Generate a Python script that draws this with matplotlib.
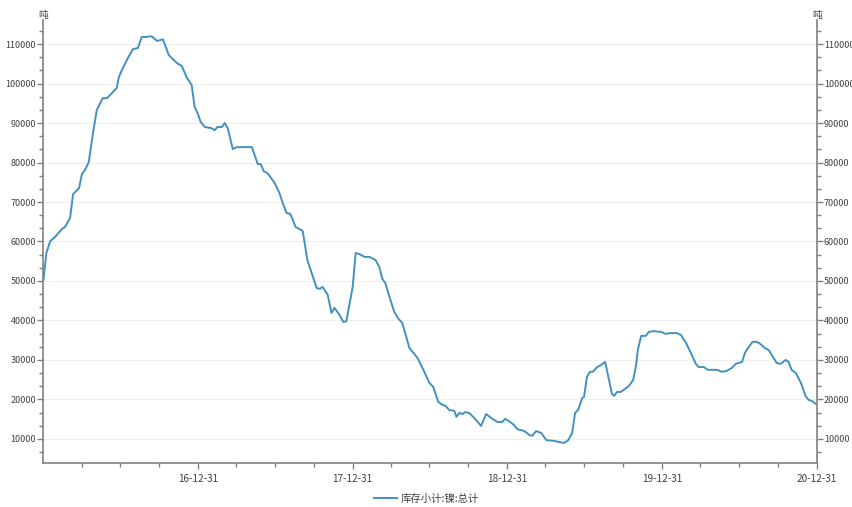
import matplotlib
matplotlib.use('Agg')
import matplotlib.pyplot as plt
import matplotlib.dates as mdates
from matplotlib.ticker import MultipleLocator, AutoMinorLocator, FixedLocator
import pandas as pd

plt.rcParams['font.family'] = ['Noto Sans CJK SC', 'DejaVu Sans']

dates = [
    '2016-01-01', '2016-01-08', '2016-01-17', '2016-01-28', '2016-02-14', '2016-02-21',
    '2016-03-04', '2016-03-11', '2016-03-25', '2016-04-01', '2016-04-08', '2016-04-17',
    '2016-04-27', '2016-05-06', '2016-05-20', '2016-05-30', '2016-06-11', '2016-06-22',
    '2016-06-27', '2016-07-04', '2016-07-18', '2016-07-30', '2016-08-11', '2016-08-20',
    '2016-09-01', '2016-09-08', '2016-09-15', '2016-09-25', '2016-10-09', '2016-10-23',
    '2016-11-11', '2016-11-23', '2016-12-04', '2016-12-16', '2016-12-23', '2016-12-30',
    '2017-01-06', '2017-01-16', '2017-02-01', '2017-02-08', '2017-02-15', '2017-02-25',
    '2017-03-04', '2017-03-11', '2017-03-23', '2017-04-01', '2017-04-15', '2017-05-07',
    '2017-05-21', '2017-05-28', '2017-06-04', '2017-06-13', '2017-06-30', '2017-07-11',
    '2017-07-19', '2017-07-28', '2017-08-06', '2017-08-18', '2017-09-04', '2017-09-15',
    '2017-10-07', '2017-10-14', '2017-10-21', '2017-11-02', '2017-11-11', '2017-11-18',
    '2017-11-30', '2017-12-09', '2017-12-16', '2017-12-31', '2018-01-07', '2018-01-16',
    '2018-01-28', '2018-02-09', '2018-02-23', '2018-03-04', '2018-03-11', '2018-03-18',
    '2018-03-28', '2018-04-08', '2018-04-18', '2018-04-27', '2018-05-07', '2018-05-14',
    '2018-06-02', '2018-06-18', '2018-06-30', '2018-07-09', '2018-07-21', '2018-07-31',
    '2018-08-07', '2018-08-16', '2018-08-28', '2018-09-02', '2018-09-09', '2018-09-16',
    '2018-09-23', '2018-10-02', '2018-10-14', '2018-10-30', '2018-11-11', '2018-11-23',
    '2018-12-07', '2018-12-19', '2018-12-26', '2019-01-09', '2019-01-16', '2019-01-23',
    '2019-02-09', '2019-02-21', '2019-02-28', '2019-03-09', '2019-03-21', '2019-04-02',
    '2019-04-21', '2019-05-02', '2019-05-14', '2019-05-24', '2019-06-02', '2019-06-09',
    '2019-06-16', '2019-06-26', '2019-06-30', '2019-07-07', '2019-07-14', '2019-07-21',
    '2019-07-31', '2019-08-09', '2019-08-19', '2019-09-04', '2019-09-09', '2019-09-16',
    '2019-09-25', '2019-10-05', '2019-10-14', '2019-10-24', '2019-10-31', '2019-11-04',
    '2019-11-12', '2019-11-23', '2019-11-30', '2019-12-12', '2019-12-29', '2020-01-09',
    '2020-01-21', '2020-02-04', '2020-02-14', '2020-02-26', '2020-03-08', '2020-03-20',
    '2020-03-27', '2020-04-08', '2020-04-17', '2020-05-09', '2020-05-20', '2020-06-01',
    '2020-06-13', '2020-06-22', '2020-07-07', '2020-07-14', '2020-07-21', '2020-08-01',
    '2020-08-11', '2020-08-20', '2020-08-30', '2020-09-08', '2020-09-15', '2020-09-27',
    '2020-10-06', '2020-10-18', '2020-10-25', '2020-11-01', '2020-11-11', '2020-11-23',
    '2020-12-04', '2020-12-11', '2020-12-19', '2020-12-28',
]
stock = [
    50250, 57100, 60100, 61100, 63200, 63700,
    66000, 72000, 73500, 77100, 78100, 80100,
    87500, 93300, 96300, 96300, 97600, 98900,
    101600, 103400, 106400, 108700, 109000, 111800,
    111800, 112000, 111800, 110800, 111200, 107200,
    105200, 104400, 101600, 99600, 94000, 92500,
    90300, 89000, 88700, 88200, 89000, 89000,
    90000, 88700, 83400, 83900, 83900, 83900,
    79600, 79600, 77800, 77300, 74800, 72300,
    69700, 67200, 67000, 63700, 62700, 55300,
    48200, 48000, 48500, 46500, 41900, 43200,
    41400, 39600, 39800, 48500, 57100, 56800,
    56100, 56100, 55300, 53500, 50500, 49500,
    45900, 42200, 40400, 39400, 35600, 33000,
    30500, 27000, 24200, 23200, 19400, 18600,
    18400, 17300, 17100, 15600, 16600, 16300,
    16800, 16600, 15300, 13300, 16300, 15300,
    14300, 14300, 15100, 14100, 13500, 12500,
    12000, 11000, 10800, 12000, 11500, 9700,
    9500, 9200, 9000, 9700, 11500, 16600,
    17300, 20400, 20600, 25700, 27000, 27000,
    28200, 28700, 29500, 21400, 20900, 21900,
    21900, 22700, 23400, 24900, 28700, 32500,
    36100, 36100, 37100, 37300, 37100, 36600,
    36800, 36800, 36300, 34300, 31800, 29000,
    28200, 28200, 27500, 27500, 27000, 27200,
    28000, 29000, 29500, 31800, 33000, 34600,
    34600, 34000, 33000, 32500, 31300, 29200,
    29000, 30000, 29500, 27500, 26700, 24200,
    20900, 19900, 19600, 18900,
]
series_name = '库存小计:镍:总计'
unit = '吨'

x = pd.to_datetime(dates)

fig = plt.figure(figsize=(8.53, 5.07), dpi=100)
ax = fig.add_axes([43 / 853, 44 / 507, 774 / 853, 443 / 507])

ax.plot(x, stock, color='#4391bf', lw=1.4, label=series_name)

ax.set_xlim(pd.Timestamp('2015-12-31'), pd.Timestamp('2020-12-31'))
ax.set_ylim(3900, 116100)

ax.xaxis.set_major_locator(FixedLocator(mdates.date2num(pd.date_range('2016-12-31', '2020-12-31', freq='YE'))))
ax.xaxis.set_minor_locator(FixedLocator(mdates.date2num(pd.date_range('2016-03-31', '2020-12-31', freq='QE'))))
ax.xaxis.set_major_formatter(mdates.DateFormatter('%y-%m-%d'))
ax.yaxis.set_major_locator(MultipleLocator(10000))
ax.yaxis.set_minor_locator(AutoMinorLocator(3))

ax.grid(True, axis='y', color='#efefef', lw=0.8)
ax.set_axisbelow(True)

for s in ['left', 'bottom', 'right']:
    ax.spines[s].set_color('#808080')
    ax.spines[s].set_linewidth(1.2)
ax.spines['top'].set_visible(False)

ax.tick_params(axis='both', which='both', colors='#808080', labelcolor='#404040', labelsize=7.2)
ax.tick_params(axis='y', which='both', left=True, right=True, labelleft=True, labelright=True, pad=1)
ax.tick_params(axis='y', labelsize=6.5)
ax.tick_params(axis='both', which='major', length=4, width=1)
ax.tick_params(axis='both', which='minor', length=3, width=1)
ax.tick_params(axis='x', which='major', pad=4)

ax.text(0, 1.0, unit, transform=ax.transAxes, ha='center', va='bottom', fontsize=7, color='#404040')
ax.text(1, 1.0, unit, transform=ax.transAxes, ha='center', va='bottom', fontsize=7, color='#404040')

fig.legend(loc='lower center', bbox_to_anchor=(0.5, -0.012), frameon=False, fontsize=7.5,
           handlelength=2.2, handletextpad=0.3, labelcolor='#404040')

plt.savefig('out.png', dpi=100)
